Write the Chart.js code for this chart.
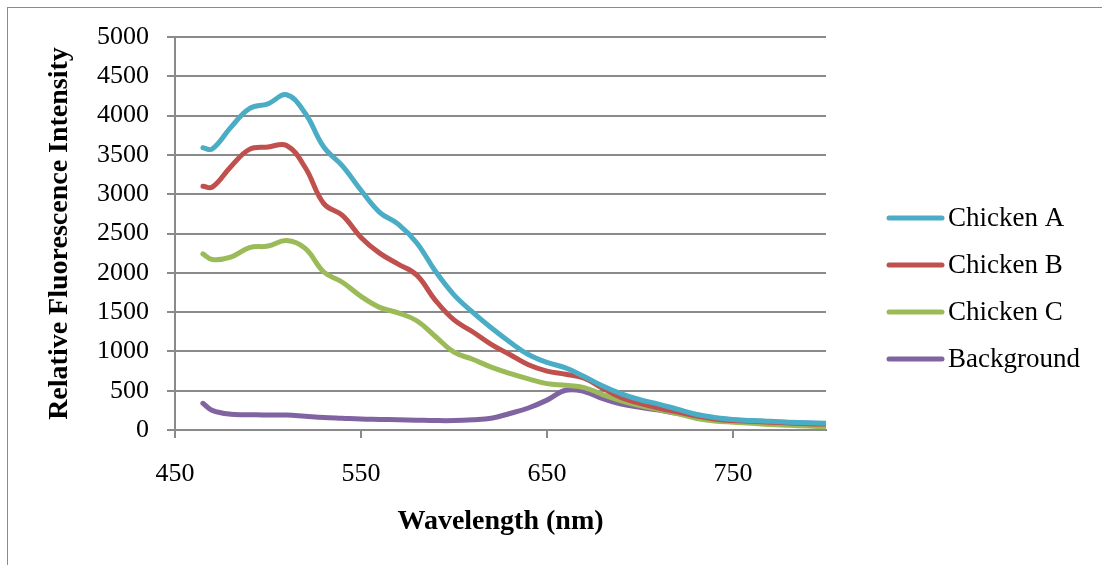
<!DOCTYPE html>
<html lang="en">
<head>
<meta charset="UTF-8" />
<title>Relative Fluorescence Intensity</title>
<style>
  body {
    margin: 0;
    background: #ffffff;
  }
  .wrap {
    position: relative;
    width: 1102px;
    height: 565px;
    overflow: hidden;
  }
  .frame {
    position: absolute;
    left: 7px;
    top: 7px;
    width: 1200px;
    height: 700px;
    border-left: 1px solid #8a8a8a;
    border-top: 1px solid #8a8a8a;
  }
  canvas {
    position: absolute;
    left: 0;
    top: 0;
  }
</style>
</head>
<body>
<div class="wrap">
  <div class="frame"></div>
  <canvas id="chart" width="1102" height="565"></canvas>
</div>

<script src="https://cdn.jsdelivr.net/npm/chart.js"></script>
<script>
  // wavelengths (nm) shared by every series
  const wavelengths = [465, 470, 480, 490, 500, 510, 520, 530, 540, 550, 560, 570, 580, 590, 600, 610, 620, 630, 640, 650, 660, 670, 680, 690, 700, 710, 720, 730, 740, 750, 760, 770, 780, 790, 800];

  const chickenA = [3590, 3575, 3850, 4090, 4150, 4265, 4030, 3600, 3360, 3050, 2770, 2620, 2380, 2020, 1720, 1500, 1300, 1120, 960, 860, 790, 680, 560, 460, 385, 330, 265, 200, 160, 135, 120, 110, 100, 92, 85];
  const chickenB = [3100, 3090, 3350, 3570, 3600, 3620, 3340, 2880, 2730, 2450, 2250, 2110, 1970, 1650, 1400, 1250, 1090, 960, 830, 750, 710, 660, 530, 410, 340, 280, 230, 180, 140, 120, 110, 100, 90, 80, 75];
  const chickenC = [2240, 2170, 2200, 2320, 2340, 2410, 2310, 2010, 1880, 1700, 1560, 1490, 1390, 1190, 990, 900, 800, 720, 650, 590, 570, 540, 450, 370, 310, 260, 210, 150, 115, 100, 85, 70, 60, 50, 42];
  const background = [340, 250, 200, 195, 190, 190, 175, 160, 150, 140, 135, 130, 125, 120, 120, 130, 150, 210, 280, 380, 505, 490, 400, 330, 288, 254, 212, 178, 150, 127, 115, 105, 95, 85, 78];

  const seriesNames = ["Chicken A", "Chicken B", "Chicken C", "Background"];
  const seriesColors = ["#4bacc6", "#c0504d", "#9bbb59", "#8064a2"];

  const xTicks = [450, 550, 650, 750];
  const xMin = 450, xMax = 800;
  const yMin = 0, yMax = 5000, yStep = 500;

  const gridColor = "#8a8a8a";
  const fontFamily = "'Liberation Serif', 'Times New Roman', serif";

  function toPoints(values) {
    return values.map((v, i) => ({ x: wavelengths[i], y: v }));
  }

  const allValues = [chickenA, chickenB, chickenC, background];
  const datasets = allValues.map((vals, i) => ({
    label: seriesNames[i],
    data: toPoints(vals),
    borderColor: seriesColors[i],
    backgroundColor: seriesColors[i],
    borderWidth: 5,
    borderCapStyle: "round",
    borderJoinStyle: "round",
    pointRadius: 0,
    tension: 0.4,
    fill: false,
  }));

  // legend on the right, drawn by hand so it sits like the Excel one
  const sideLegend = {
    id: "sideLegend",
    afterDraw(chart) {
      const ctx = chart.ctx;
      ctx.save();
      ctx.font = "27px " + fontFamily;
      ctx.textBaseline = "middle";
      ctx.textAlign = "left";
      chart.data.datasets.forEach((ds, i) => {
        const y = 218 + i * 47;
        ctx.strokeStyle = ds.borderColor;
        ctx.lineWidth = 5;
        ctx.lineCap = "round";
        ctx.beginPath();
        ctx.moveTo(889, y);
        ctx.lineTo(942, y);
        ctx.stroke();
        ctx.fillStyle = "#000";
        ctx.fillText(ds.label, 948, y + 1);
      });
      ctx.restore();
    },
  };

  new Chart(document.getElementById("chart"), {
    type: "line",
    data: { datasets: datasets },
    plugins: [sideLegend],
    options: {
      responsive: false,
      animation: false,
      devicePixelRatio: 1,
      layout: { padding: { top: 37, right: 276, bottom: 0, left: 0 } },
      plugins: {
        legend: { display: false },
        tooltip: { enabled: false },
      },
      scales: {
        x: {
          type: "linear",
          min: xMin,
          max: xMax,
          afterBuildTicks: (s) => { s.ticks = xTicks.map((v) => ({ value: v })); },
          afterFit: (s) => { s.height = 135; },
          grid: {
            display: true,
            drawOnChartArea: false,
            drawTicks: true,
            tickLength: 8,
            color: gridColor,
            lineWidth: 2,
          },
          border: { display: true, color: gridColor, width: 2 },
          ticks: {
            color: "#000",
            padding: 21,
            font: { family: fontFamily, size: 26 },
            maxRotation: 0,
            callback: (v) => String(v),
          },
          title: {
            display: true,
            text: "Wavelength (nm)",
            color: "#000",
            font: { family: fontFamily, size: 28, weight: "bold" },
            padding: { top: 0, bottom: 26 },
          },
        },
        y: {
          min: yMin,
          max: yMax,
          afterFit: (s) => { s.width = 175; },
          grid: {
            color: gridColor,
            lineWidth: 2,
            tickLength: 8,
          },
          border: { display: true, color: gridColor, width: 2 },
          ticks: {
            stepSize: yStep,
            color: "#000",
            padding: 18,
            font: { family: fontFamily, size: 26 },
            callback: (v) => String(v),
          },
          title: {
            display: true,
            text: "Relative Fluorescence Intensity",
            color: "#000",
            font: { family: fontFamily, size: 28, weight: "bold" },
            padding: { top: 43, bottom: 0 },
          },
        },
      },
    },
  });
</script>
</body>
</html>
